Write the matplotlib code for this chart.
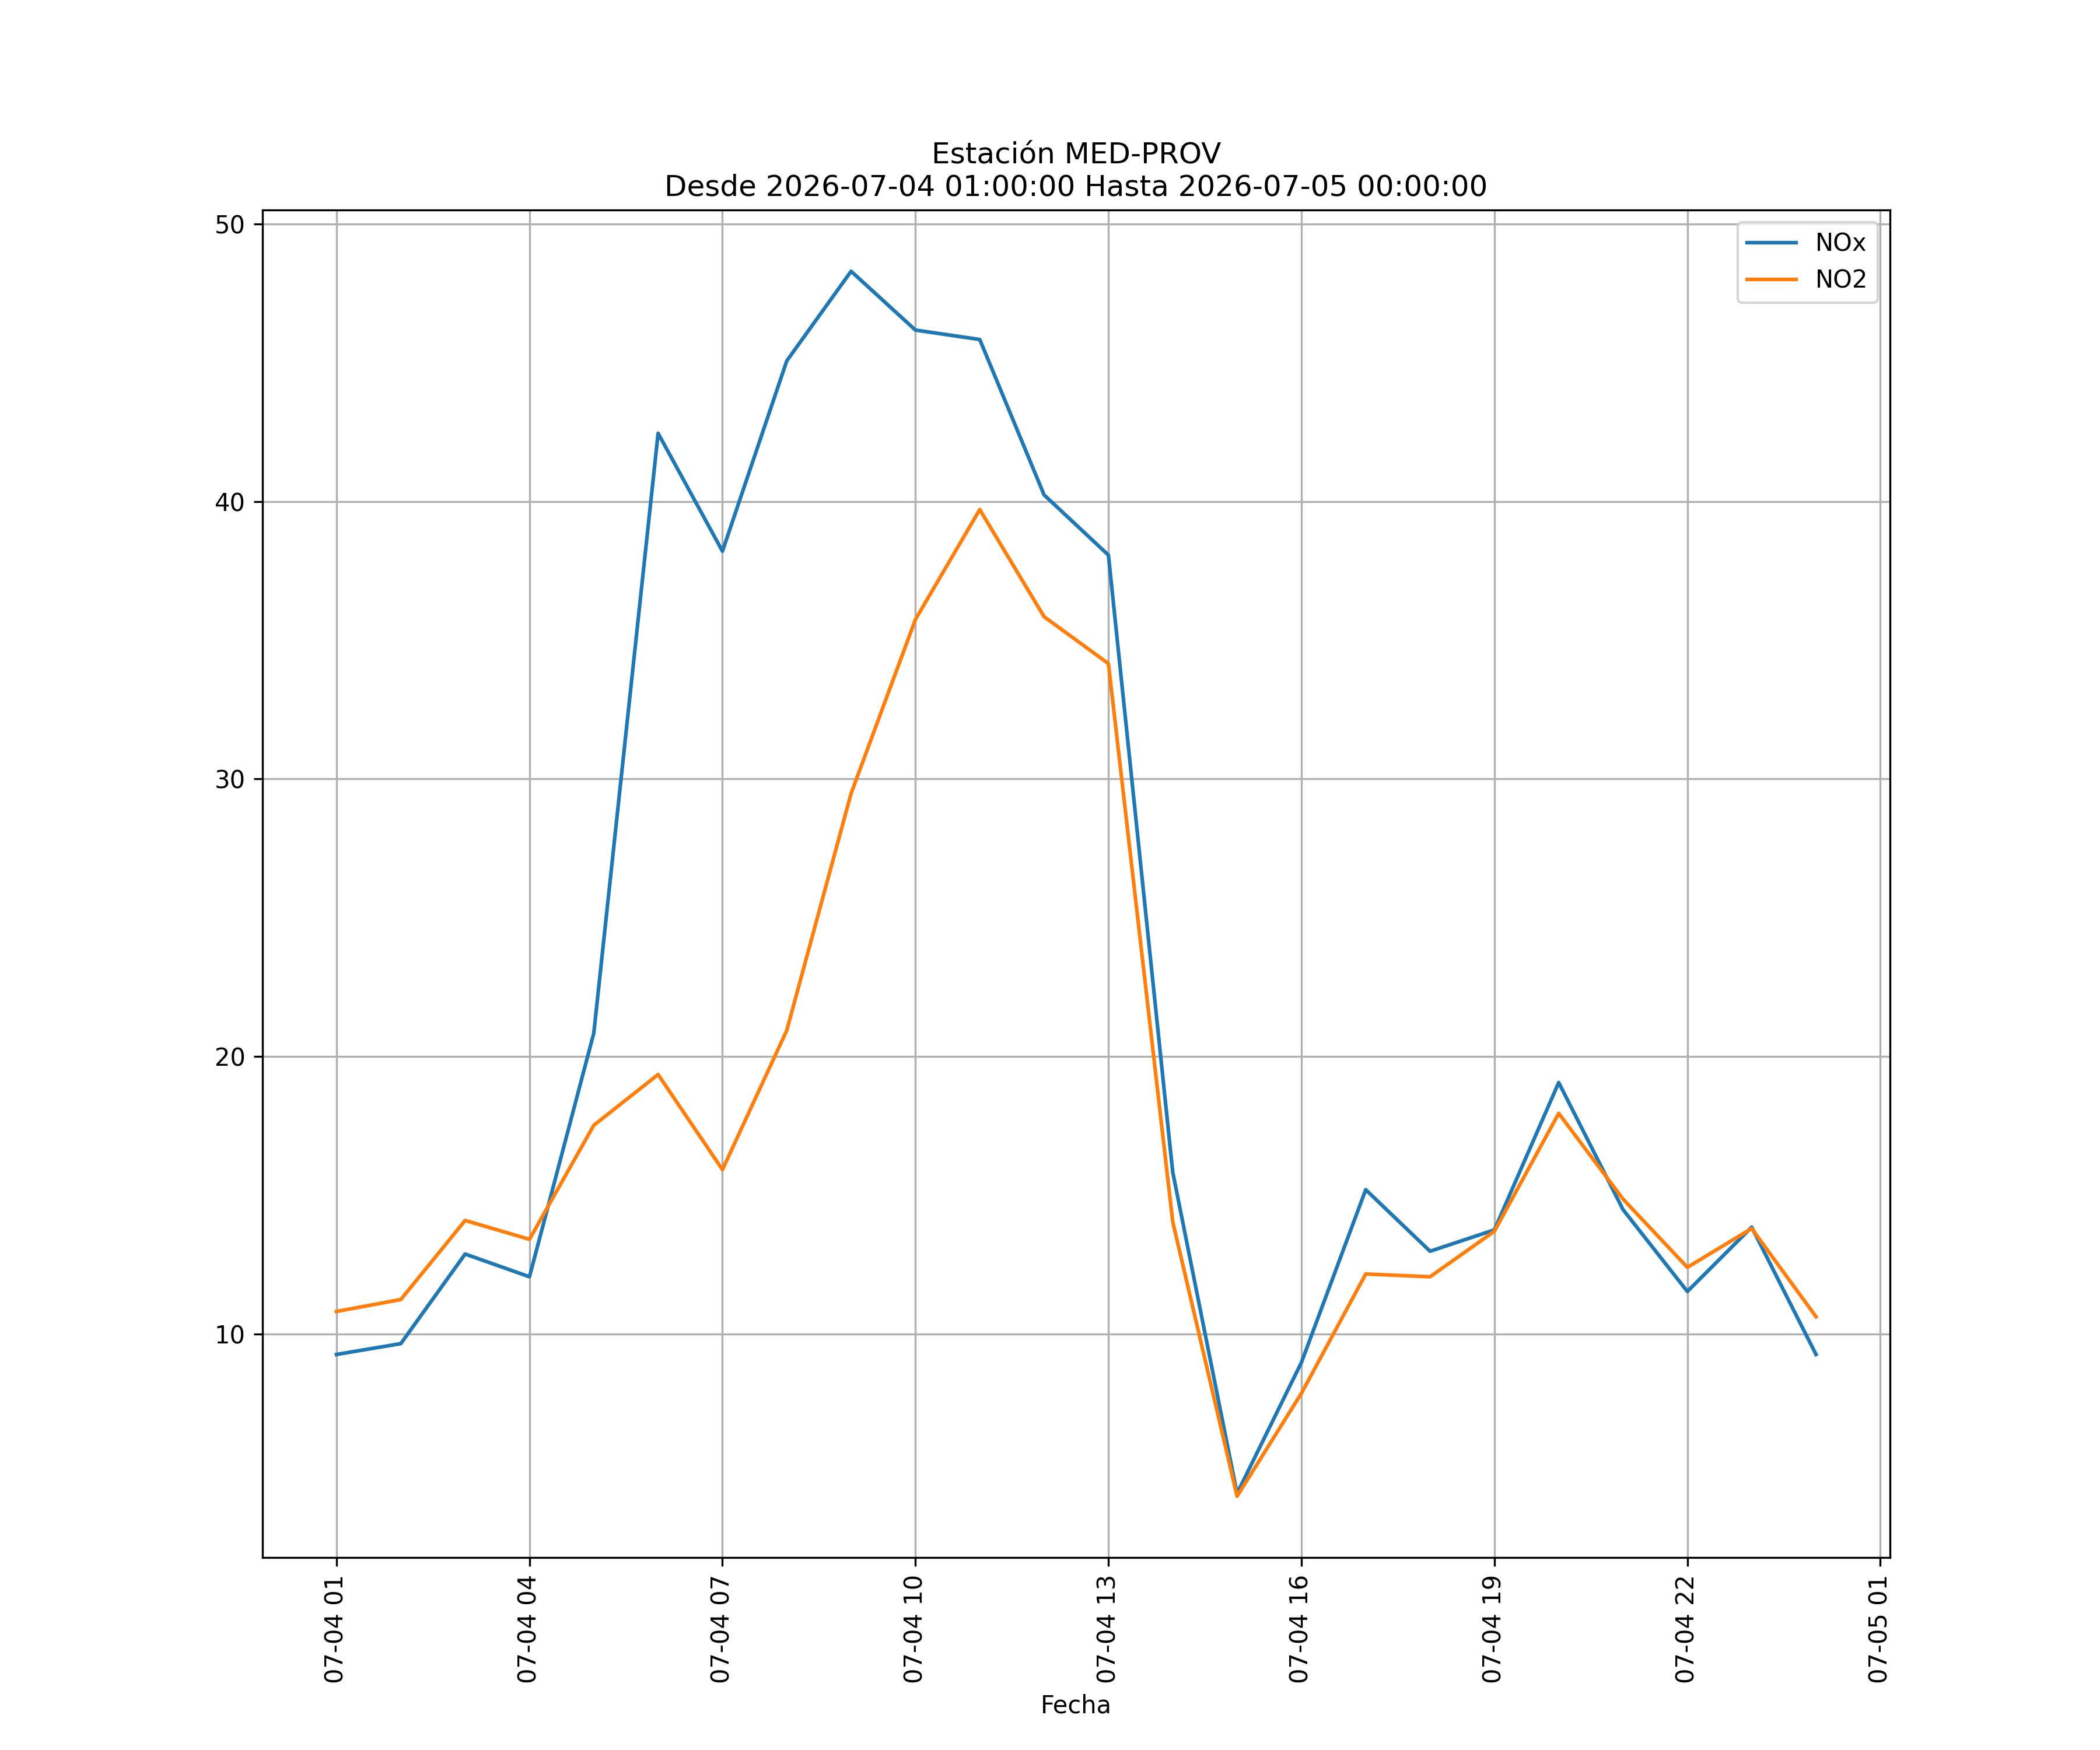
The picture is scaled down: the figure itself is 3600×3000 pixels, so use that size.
import matplotlib
matplotlib.use('Agg')
import matplotlib.pyplot as plt
import matplotlib.dates as mdates
import pandas as pd

# Data (hourly values)
fechas = pd.date_range('2026-07-04 01:00:00', '2026-07-05 00:00:00', freq='h')
nox = [9.26, 9.65, 12.88, 12.06, 20.84, 42.46, 38.21, 45.07, 48.30, 46.18, 45.84, 40.24,
       38.07, 15.83, 4.25, 8.97, 15.20, 12.98, 13.75, 19.06, 14.48, 11.53, 13.85, 9.26]
no2 = [10.81, 11.24, 14.09, 13.41, 17.52, 19.35, 15.92, 20.94, 29.48, 35.75, 39.71, 35.85,
       34.16, 14.04, 4.15, 7.86, 12.16, 12.06, 13.70, 17.95, 14.86, 12.40, 13.80, 10.62]

fig, ax = plt.subplots(figsize=(12, 10))

ax.plot(fechas, nox, label='NOx')
ax.plot(fechas, no2, label='NO2')

ax.set_title('Estación MED-PROV\nDesde 2026-07-04 01:00:00 Hasta 2026-07-05 00:00:00')
ax.set_xlabel('Fecha')
ax.xaxis.set_major_locator(mdates.HourLocator(byhour=range(1, 24, 3)))
ax.xaxis.set_major_formatter(mdates.DateFormatter('%m-%d %H'))
plt.setp(ax.get_xticklabels(), rotation=90)
ax.grid(True)
ax.legend(loc='upper right')

plt.savefig('out.png', dpi=300)
